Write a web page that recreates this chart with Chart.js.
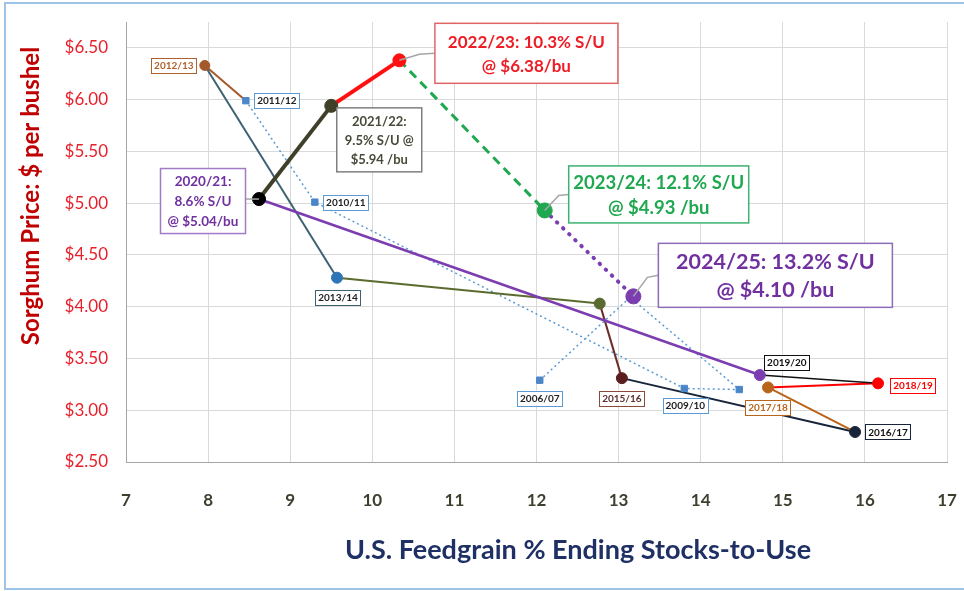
<!DOCTYPE html>
<html>
<head>
<meta charset="utf-8">
<title>Sorghum price vs U.S. feedgrain stocks-to-use</title>
<script src="https://cdn.jsdelivr.net/npm/chart.js@4.4.0/dist/chart.umd.min.js"></script>
<style>
  html, body { margin: 0; padding: 0; background: #fff; }
  #wrap { width: 964px; height: 591px; }
</style>
</head>
<body>
<div id="wrap"><canvas id="grafico" width="964" height="591"></canvas></div>
<script>
// marketing years, in the order the path is drawn
const years = ['2006/07', '2007/08', '2008/09', '2009/10', '2010/11', '2011/12', '2012/13', '2013/14',
    '2014/15', '2015/16', '2016/17', '2017/18', '2018/19', '2019/20', '2020/21', '2021/22',
    '2022/23', '2023/24', '2024/25'];
// U.S. feedgrain ending stocks-to-use, %
const stocksToUse = [12.04, 13.14, 14.47, 13.80, 9.30, 8.46, 7.96, 9.57,
    12.77, 13.04, 15.88, 14.82, 16.16, 14.72, 8.62,
    9.50, 10.33, 12.10, 13.18];
// sorghum season average price, $/bu
const price = [3.29, 4.09, 3.20, 3.21, 5.01, 5.99, 6.33, 4.28,
    4.03, 3.31, 2.79, 3.22, 3.26, 3.34, 5.04,
    5.94, 6.38, 4.93, 4.10];

const xTicks = [7, 8, 9, 10, 11, 12, 13, 14, 15, 16, 17];
const yTicks = [2.5, 3.0, 3.5, 4.0, 4.5, 5.0, 5.5, 6.0, 6.5];

// small year tags (index into years)
const tagIdx = [0, 3, 4, 5, 6, 7, 9, 10, 11, 12, 13];

// big call-outs
const noteIdx = [16, 15, 14, 17, 18];
const noteText = [
    ['2022/23: 10.3% S/U', '@ $6.38/bu'],
    ['2021/22:', '9.5% S/U @', '$5.94 /bu'],
    ['2020/21:', '8.6% S/U', '@ $5.04/bu'],
    ['2023/24: 12.1% S/U', '@ $4.93 /bu'],
    ['2024/25: 13.2% S/U', '@ $4.10 /bu']
];

// ---- styles ----
const blue = '#4A86C8';
const pointColor = [blue, blue, blue, blue, blue, blue, '#A5582A', '#2E75B6',
    '#5B6B2F', '#5A1E1E', '#17243A', '#B8651B', '#FF0000', '#7B3DB0', '#000000',
    '#3F3F2A', '#FF1010', '#1FA84F', '#7B3DB0'];
const pointShape = years.map((y, i) => i < 6 ? 'rect' : 'circle');
const pointSize = [4.5, 4.5, 4.5, 4.5, 4.5, 4.5, 5, 5.5, 5.5, 5.5, 5.5, 5.5, 5.5, 5.5, 6.5, 6.5, 6.5, 7.5, 7.5];

// segment i goes from point i to point i+1
const segColor = ['#5B9BD5', '#5B9BD5', '#5B9BD5', '#5B9BD5', '#5B9BD5', '#A5582A', '#3D6273',
    '#5B6B2F', '#6B2B2B', '#17243A', '#B8651B', '#FF0000', '#111111', '#7B3DB0',
    '#3F3F2A', '#FF1010', '#1FA84F', '#7B3DB0'];
const segWidth = [1.5, 1.5, 1.5, 1.5, 1.5, 2, 2, 2, 2, 2, 2, 2, 1.5, 2.5, 4, 4, 3, 4];
const segDash = [[2, 3], [2, 3], [2, 3], [2, 3], [2, 3], [], [], [], [], [], [], [], [], [], [], [], [9, 6], [0.5, 8]];

const tagStyle = {
    '2006/07': { dx: 0, dy: 18, text: '#222', border: '#5B9BD5' },
    '2009/10': { dx: 1, dy: 17, text: '#222', border: '#5B9BD5' },
    '2010/11': { dx: 31, dy: 0, text: '#222', border: '#5B9BD5' },
    '2011/12': { dx: 31, dy: 0, text: '#222', border: '#5B9BD5' },
    '2012/13': { dx: -31, dy: 0, text: '#B0602A', border: '#B0602A' },
    '2013/14': { dx: 1, dy: 20, text: '#222', border: '#3D6273' },
    '2015/16': { dx: 0, dy: 20, text: '#5A3030', border: '#8A4A3A' },
    '2016/17': { dx: 33, dy: 0, text: '#111', border: '#17243A' },
    '2017/18': { dx: 0, dy: 20, text: '#B8651B', border: '#B8651B' },
    '2018/19': { dx: 35, dy: 2, text: '#FF0000', border: '#FF0000' },
    '2019/20': { dx: 27, dy: -13, text: '#111', border: '#111' }
};

const noteStyle = [
    { dx: 127, dy: -7, w: 183, h: 60, size: 17, lh: 24, color: '#EE1C25', border: '#E06666', leader: [[0, 0], [20, -6], [35, -7]] },
    { dx: 48, dy: 34, w: 85, h: 64, size: 13, lh: 19, color: '#4A4A3A', border: '#7F7F7F', leader: [] },
    { dx: -56, dy: 2, w: 85, h: 65, size: 13.5, lh: 20, color: '#7030A0', border: '#A07CC5', leader: [[0, 0], [-13, 0]] },
    { dx: 114, dy: -16, w: 180, h: 57, size: 18.5, lh: 25, color: '#1FA84F', border: '#3CB371', leader: [[0, 0], [14, -15], [24, -16]] },
    { dx: 142, dy: -21, w: 234, h: 64, size: 21.5, lh: 28, color: '#7030A0', border: '#8E6BB8', leader: [[0, 0], [14, -19], [25, -21]] }
];

const FONT = 'Lato, "Open Sans", sans-serif';

const labelsPlugin = {
    id: 'labelsPlugin',
    beforeDraw(chart) {
        const c = chart.ctx;
        c.save();
        c.fillStyle = '#fff';
        c.fillRect(0, 0, chart.width, chart.height);
        c.strokeStyle = '#9DC3E6';
        c.lineWidth = 2;
        c.strokeRect(5, 3, chart.width + 10, chart.height - 5);
        c.restore();
    },
    afterDatasetsDraw(chart) {
        const c = chart.ctx;
        const pts = chart.getDatasetMeta(0).data;
        c.save();
        c.textAlign = 'center';
        c.textBaseline = 'middle';

        // small year tags
        c.font = 'bold 10px ' + FONT;
        tagIdx.forEach(i => {
            const st = tagStyle[years[i]];
            const cx = pts[i].x + st.dx, cy = pts[i].y + st.dy;
            const w = c.measureText(years[i]).width + 6, h = 15;
            c.fillStyle = '#fff';
            c.fillRect(cx - w / 2, cy - h / 2, w, h);
            c.strokeStyle = st.border;
            c.lineWidth = 1;
            c.strokeRect(Math.round(cx - w / 2) + 0.5, Math.round(cy - h / 2) + 0.5, Math.round(w), h);
            c.fillStyle = st.text;
            c.fillText(years[i], cx, cy + 0.5);
        });

        // big call-outs
        noteIdx.forEach((i, k) => {
            const st = noteStyle[k];
            const px = pts[i].x, py = pts[i].y;
            if (st.leader.length) {
                c.strokeStyle = '#A6A6A6';
                c.lineWidth = 1.5;
                c.beginPath();
                st.leader.forEach((p, j) => j ? c.lineTo(px + p[0], py + p[1]) : c.moveTo(px + p[0], py + p[1]));
                c.stroke();
            }
            const cx = px + st.dx, cy = py + st.dy;
            c.fillStyle = '#fff';
            c.fillRect(cx - st.w / 2, cy - st.h / 2, st.w, st.h);
            c.strokeStyle = st.border;
            c.lineWidth = 1.5;
            c.strokeRect(cx - st.w / 2, cy - st.h / 2, st.w, st.h);
            c.fillStyle = st.color;
            c.font = 'bold ' + st.size + 'px ' + FONT;
            const lines = noteText[k];
            lines.forEach((t, j) => {
                c.fillText(t, cx, cy + (j - (lines.length - 1) / 2) * st.lh + 1);
            });
        });
        c.restore();
    },
    afterDraw(chart) {
        const c = chart.ctx;
        c.save();
        c.textAlign = 'center';
        c.textBaseline = 'middle';
        // y axis title
        c.translate(31, 196);
        c.rotate(-Math.PI / 2);
        c.fillStyle = '#C00000';
        c.font = 'bold 24px ' + FONT;
        c.fillText('Sorghum Price: $ per bushel', 0, 0);
        c.restore();
        // x axis title
        c.save();
        c.textAlign = 'center';
        c.textBaseline = 'middle';
        c.fillStyle = '#1F3064';
        c.font = 'bold 27px ' + FONT;
        c.fillText('U.S. Feedgrain % Ending Stocks-to-Use', 578, 550);
        c.restore();
    }
};

const ctx = document.getElementById('grafico').getContext('2d');
const grafico = new Chart(ctx, {
    type: 'scatter',
    data: {
        datasets: [{
            data: years.map((y, i) => ({ x: stocksToUse[i], y: price[i] })),
            showLine: true,
            borderColor: '#5B9BD5',
            borderWidth: 2,
            pointStyle: pointShape,
            pointRadius: pointSize,
            pointBackgroundColor: pointColor,
            pointBorderColor: pointColor,
            pointBorderWidth: 1,
            segment: {
                borderColor: s => segColor[s.p0DataIndex],
                borderWidth: s => segWidth[s.p0DataIndex],
                borderDash: s => segDash[s.p0DataIndex],
                borderCapStyle: s => s.p0DataIndex === 17 ? 'round' : 'butt'
            }
        }]
    },
    options: {
        responsive: false,
        animation: false,
        devicePixelRatio: 1,
        layout: { padding: { top: 22, right: 17, left: 0, bottom: 0 } },
        plugins: {
            legend: { display: false },
            tooltip: { enabled: false }
        },
        scales: {
            x: {
                type: 'linear',
                min: 7,
                max: 17,
                afterBuildTicks: s => { s.ticks = xTicks.map(v => ({ value: v })); },
                afterFit: s => { s.height = 129; s.paddingLeft = 0; s.paddingRight = 0; },
                ticks: {
                    color: '#3F3F2F',
                    font: { family: FONT, size: 17, weight: 'bold' },
                    padding: 28,
                    maxRotation: 0
                },
                grid: { color: '#D9D9D9', drawTicks: false },
                border: { color: '#A6A6A6' }
            },
            y: {
                min: 2.5,
                max: 6.75,
                afterBuildTicks: s => { s.ticks = yTicks.map(v => ({ value: v })); },
                afterFit: s => { s.width = 126; s.paddingTop = 0; s.paddingBottom = 0; },
                ticks: {
                    color: '#E8202A',
                    font: { family: FONT, size: 17 },
                    padding: 18,
                    callback: v => '$' + Number(v).toFixed(2)
                },
                grid: { color: '#D9D9D9', drawTicks: false },
                border: { color: '#A6A6A6' }
            }
        }
    },
    plugins: [labelsPlugin]
});
</script>
</body>
</html>
